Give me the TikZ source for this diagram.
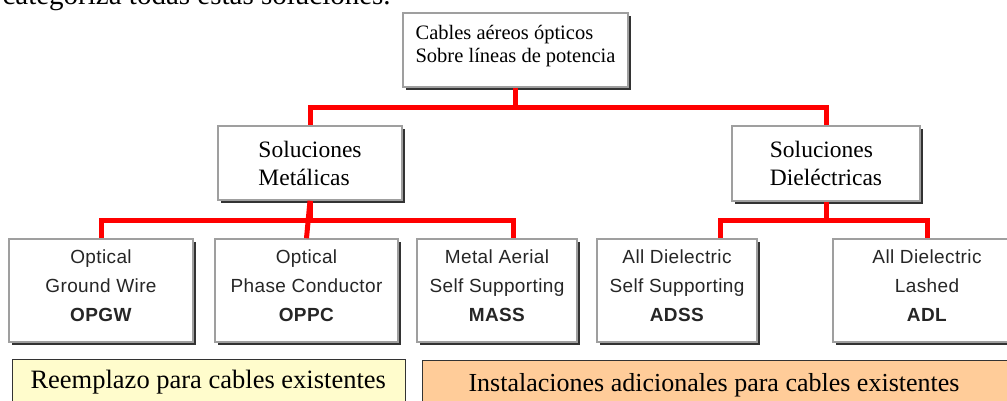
\documentclass[tikz,border=0pt]{standalone}
\usepackage{fontspec}
\setmainfont{Liberation Serif}
\setsansfont{Liberation Sans}
\usetikzlibrary{positioning, calc, shadows}
\tikzset{
    base/.style={draw=gray!75, line width=1.5pt, fill=white, inner sep=0pt,
        drop shadow={shadow xshift=3pt, shadow yshift=-3pt, fill=black!80, opacity=1}},
    group/.style={base, rectangle, align=left, font=\fontsize{23.5}{28}\selectfont},
    cable/.style={base, rectangle, align=center, minimum height=103pt, text depth=9pt,
        font=\sffamily\fontsize{19}{29}\selectfont\addfontfeature{LetterSpace=2}, text=black!85},
    band/.style={draw=black!80, line width=1pt, rectangle, anchor=north west, minimum height=60pt},
    bandtext/.style={anchor=base west, font=\fontsize{26.5}{30}\selectfont},
    link/.style={red, line width=5pt}
}

\begin{document}
\begin{tikzpicture}[x=1pt, y=1pt]
    \clip (0,0) rectangle (1007,-401);
    \fill[white] (0,0) rectangle (1007,-401);
    \node (intro) [anchor=base west, font=\fontsize{29}{32}\selectfont] at (-1,-5) {categoriza todas estas soluciones.};

    \node (root) [group, minimum width=225pt, minimum height=74pt, text depth=12pt, font=\fontsize{20.5}{23}\selectfont] at (515.5,-50) {Cables aéreos ópticos\\Sobre líneas de potencia};
    \node (metal) [group, minimum width=184pt, minimum height=74pt] at (310,-163) {Soluciones\\Metálicas};
    \node (diel) [group, minimum width=188pt, minimum height=75pt] at (826,-163.5) {Soluciones\\Dieléctricas};

    \node (opgw) [cable, minimum width=184pt] at (101,-290.5) {Optical\\Ground Wire\\\textbf{OPGW}};
    \node (oppc) [cable, minimum width=183pt] at (306.5,-290.5) {Optical\\Phase Conductor\\\textbf{OPPC}};
    \node (mass) [cable, minimum width=160pt] at (497,-290.5) {Metal Aerial\\Self Supporting\\\textbf{MASS}};
    \node (adss) [cable, minimum width=160pt] at (677,-290.5) {All Dielectric\\Self Supporting\\\textbf{ADSS}};
    \node (adl) [cable, minimum width=188pt] at (927,-290.5) {All Dielectric\\Lashed\\\textbf{ADL}};

    \coordinate (massin) at ($(mass.north west)!0.6!(mass.north east)$);
    \coordinate (adssin) at ($(adss.north west)!0.77!(adss.north east)$);

    \draw [link] (root.south) -- ++(0,-20) -| (metal.north);
    \draw [link] (root.south) ++(0,-20) -| (diel.north);
    \draw [link] (metal.south) -- ++(0,-20) -| (opgw.north);
    \draw [link] (metal.south) -- (oppc.north |- opgw.north);
    \draw [link] (metal.south) ++(0,-20) -| (massin);
    \draw [link] (diel.south) -- ++(0,-19) -| (adssin);
    \draw [link] (diel.south) ++(0,-19) -| (adl.north);

    \node (replace) [band, fill=yellow!20, minimum width=393pt] at (12,-359) {};
    \node (replacetext) [bandtext] at (27,-388) {Reemplazo para cables existentes};
    \node (extra) [band, fill=orange!40, minimum width=600pt] at (422,-360) {};
    \node (extratext) [bandtext, font=\fontsize{26}{30}\selectfont] at (465,-391) {Instalaciones adicionales para cables existentes};
\end{tikzpicture}
\end{document}
